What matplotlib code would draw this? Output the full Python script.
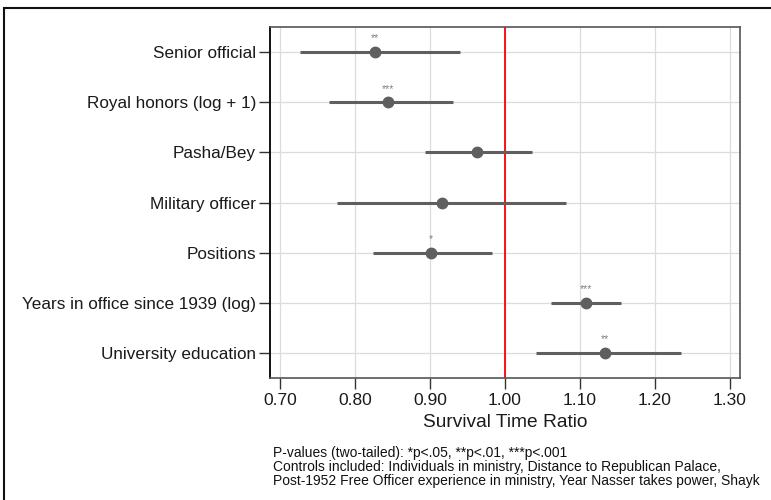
import matplotlib
matplotlib.use("Agg")
import matplotlib.pyplot as plt
from matplotlib.patches import Rectangle

plt.rcParams['font.family'] = ['Liberation Sans', 'DejaVu Sans']

labels = ["Senior official", "Royal honors (log + 1)", "Pasha/Bey", "Military officer",
          "Positions", "Years in office since 1939 (log)", "University education"]
estimates = [0.826, 0.844, 0.962, 0.916, 0.901, 1.108, 1.134]
ci_low = [0.726, 0.765, 0.893, 0.775, 0.824, 1.062, 1.041]
ci_high = [0.940, 0.930, 1.036, 1.081, 0.983, 1.155, 1.235]
stars = ["**", "***", "", "", "*", "***", "**"]
xticks = [0.70, 0.80, 0.90, 1.00, 1.10, 1.20, 1.30]

fig = plt.figure(figsize=(7.71, 5.0), dpi=100)
ax = fig.add_axes([270/771, 1-378/500, 470/771, 351/500])

ypos = list(range(1, len(labels)+1))
col = '#5f5f5f'
for y, e, lo, hi, s in zip(ypos, estimates, ci_low, ci_high, stars):
    ax.plot([lo, hi], [y, y], color=col, lw=2.2, solid_capstyle='butt', zorder=3)
    ax.plot([e], [y], 'o', color=col, ms=7.5, zorder=4)
    if s:
        ax.text(e, y - 0.17, s, ha='center', va='bottom', fontsize=7.5, color='#808080')

ax.axvline(1.0, color='#ff0000', lw=1.3, zorder=2)
ax.set_xlim(0.6862, 1.3138)
ax.set_ylim(7.5, 0.5)
ax.set_yticks(ypos)
ax.set_yticklabels(labels, fontsize=12.3, color='#1a1a1a')
ax.set_xticks(xticks)
ax.set_xticklabels([f"{t:.2f}" for t in xticks], fontsize=12.5, color='#1a1a1a')
ax.set_xlabel("Survival Time Ratio", fontsize=13.8, color='#1a1a1a', labelpad=4)
ax.grid(True, color='#dcdcdc', lw=0.9, zorder=0)
ax.set_axisbelow(True)
ax.tick_params(axis='x', length=8, width=1, color='#333333', pad=3)
ax.tick_params(axis='y', length=8, width=1, color='#333333', pad=2)
for side in ['top', 'right', 'bottom']:
    ax.spines[side].set_color('#555555')
    ax.spines[side].set_linewidth(1.2)
ax.spines['left'].set_color('#111111')
ax.spines['left'].set_linewidth(1.4)

note = ("P-values (two-tailed): *p<.05, **p<.01, ***p<.001\n"
        "Controls included: Individuals in ministry, Distance to Republican Palace,\n"
        "Post-1952 Free Officer experience in ministry, Year Nasser takes power, Shayk")
fig.text(273/771, 1-446/500, note, fontsize=10, va='top', ha='left', color='#111111',
         linespacing=1.0)

fig.patches.append(Rectangle((4/771, -0.1), 1.2, 1-8/500+0.1, transform=fig.transFigure,
                             fill=False, edgecolor='#111111', lw=1.5))

fig.savefig("out.png", dpi=100)
